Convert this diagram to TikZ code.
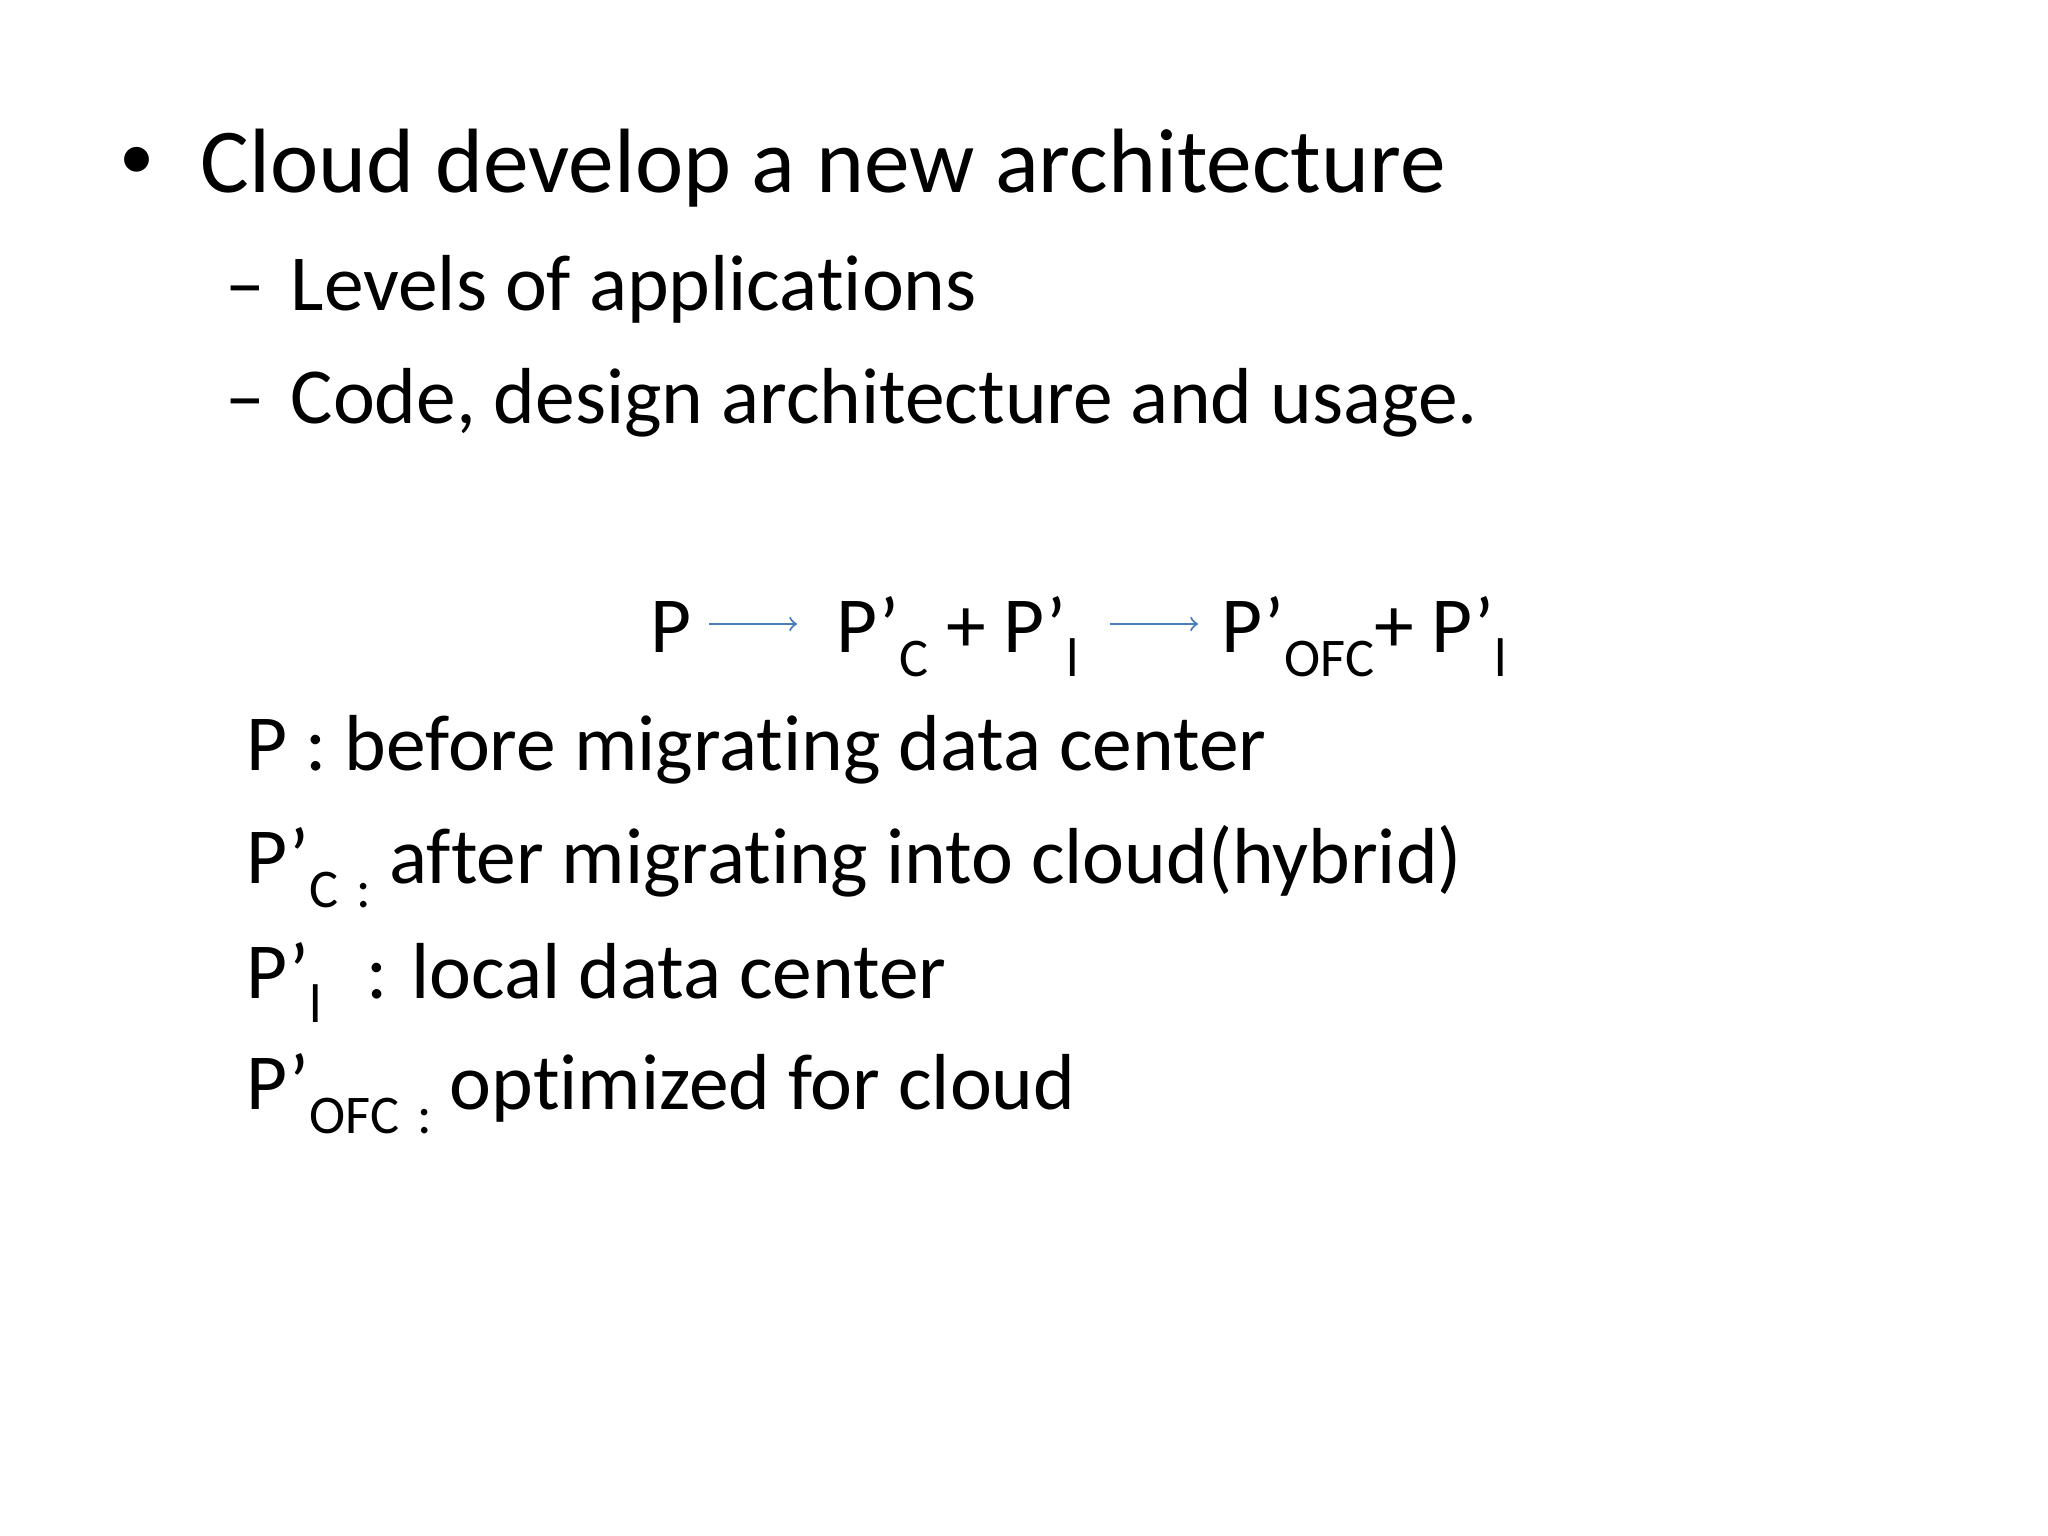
\documentclass[tikz,border=0pt]{standalone}
\usepackage{fontspec}
\setmainfont{Carlito}[Ligatures={NoCommon}]
\usetikzlibrary{calc}
\definecolor{arrblue}{RGB}{74,126,187}
\newcommand{\sbs}[1]{\raisebox{-0.3em}{\fontsize{15.5}{16}\selectfont #1}}
\begin{document}
\begin{tikzpicture}[
  big/.style={anchor=base west,inner sep=0pt,font=\fontsize{26}{30}\selectfont},
  mid/.style={anchor=base west,inner sep=0pt,font=\fontsize{22.6}{26}\selectfont},
  arr/.style={->,draw=arrblue,line width=0.6pt}]
\useasboundingbox[fill=white] (0,0) rectangle (20.48,15.36);
\node[anchor=center,inner sep=0pt,font=\fontsize{20}{24}\selectfont] (b) at (1.37,13.73) {•};
\node[big] (t) at (2.00,13.43) {Cloud develop a new architecture};
\node[mid] (d1) at (2.25,12.25) {–};
\node[mid] (l1) at (2.90,12.25) {Levels of applications};
\node[mid] (d2) at (2.25,11.12) {–};
\node[mid] (l2) at (2.90,11.12) {Code, design architecture and usage.};
\node[mid] (f1) at (6.50,8.83) {P};
\node[mid] (f2) at (8.36,8.83) {P’\sbs{C} + P’\sbs{l}};
\node[mid] (f3) at (12.21,8.83) {P’\sbs{OFC}+ P’\sbs{l}};
\draw[arr] ($(f1.base east)+(0.17,0.29)$) -- ($(f2.base west)+(-0.39,0.29)$);
\draw[arr] ($(f2.base east)+(0.3,0.29)$) -- ($(f3.base west)+(-0.23,0.29)$);
\node[mid] (e1) at (2.46,7.65) {P : before migrating data center};
\node[mid] (e2) at (2.46,6.52) {P’\sbs{C\,\,:} after migrating into cloud(hybrid)};
\node[mid] (e3) at (2.46,5.37) {P’\sbs{l}\,\, : local data center};
\node[mid] (e4) at (2.46,4.26) {P’\sbs{OFC\,\,:} optimized for cloud};
\end{tikzpicture}
\end{document}
